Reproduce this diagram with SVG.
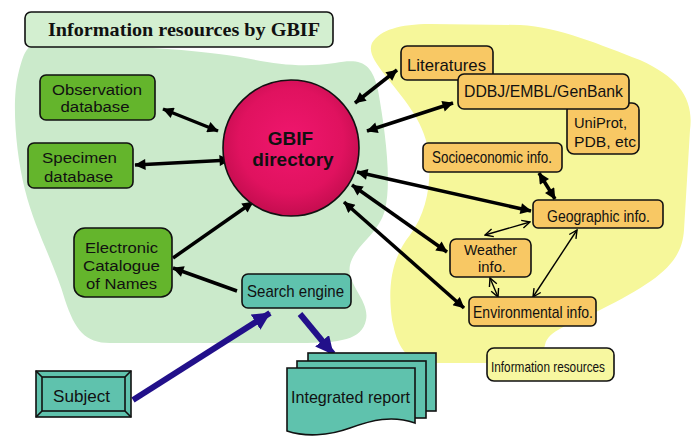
<svg xmlns="http://www.w3.org/2000/svg" width="696" height="438" viewBox="0 0 696 438">
<defs>
<radialGradient id="gb" cx="50%" cy="45%" r="55%">
<stop offset="0" stop-color="#f0166e"/>
<stop offset="0.7" stop-color="#e0125f"/>
<stop offset="1" stop-color="#c40d4f"/>
</radialGradient>
<marker id="ak" viewBox="0 0 10 10" refX="9.5" refY="5" markerWidth="12" markerHeight="11" markerUnits="userSpaceOnUse" orient="auto-start-reverse">
<path d="M0,0 L10,5 L0,10 Z" fill="#000"/>
</marker>
<marker id="at" viewBox="0 0 10 10" refX="9" refY="5" markerWidth="10" markerHeight="10" markerUnits="userSpaceOnUse" orient="auto-start-reverse">
<path d="M1,1 L9,5 L1,9" fill="none" stroke="#000" stroke-width="1.4"/>
</marker>
<marker id="ab" viewBox="0 0 10 10" refX="9.5" refY="5" markerWidth="18" markerHeight="18" markerUnits="userSpaceOnUse" orient="auto">
<path d="M0,0 L10,5 L0,10 Z" fill="#22108a"/>
</marker>
</defs>
<style>
.t{font-family:"Liberation Sans",Arial,sans-serif;font-size:17px;fill:#111;}
.m{font-size:15.5px;}
.b{stroke:#111;stroke-width:1.6;}
.g{fill:#64b52c;}
.o{fill:#f8c864;}
.c{fill:#5fc2ad;}
.thick{stroke:#000;stroke-width:3.5;fill:none;}
.thin{stroke:#000;stroke-width:1.4;fill:none;}
.blue{stroke:#22108a;stroke-width:6;fill:none;}
</style>

<path id="greenArea" d="M30,47 C100,42 200,50 240,57 C275,64 300,68 335,63 C360,58 372,62 378,90 C385,130 392,180 385,210 C378,235 355,245 350,265 C346,285 370,300 366,320 C362,340 340,343 300,343 L110,343 C85,343 75,330 65,300 C55,265 35,230 25,190 C15,150 12,100 18,75 C22,58 25,50 30,47 Z" fill="#cbeacb"/>
<path id="yellowArea" d="M372,43 C380,30 400,24 430,24 L520,25 C560,27 600,45 640,60 C680,78 694,100 690,130 L684,230 C682,262 660,280 600,310 C570,325 548,330 545,345 C542,358 530,363 500,363 L430,363 C405,362 397,345 392,320 C388,290 390,260 410,235 C428,210 432,180 428,150 C424,120 400,95 385,75 C375,62 368,52 372,43 Z" fill="#f6f79a"/>

<g id="title">
<rect x="25" y="12" width="308" height="35" rx="6" fill="#d3efd0" class="b"/>
<text x="184" y="36" text-anchor="middle" textLength="272" lengthAdjust="spacingAndGlyphs" style="font-family:'Liberation Serif','Times New Roman',serif;font-size:19px;font-weight:bold;fill:#111">Information resources by GBIF</text>
</g>

<g id="connectors">
<line x1="163" y1="109" x2="218" y2="131" class="thick" marker-start="url(#ak)" marker-end="url(#ak)"/>
<line x1="135" y1="165" x2="230" y2="160" class="thick" marker-start="url(#ak)" marker-end="url(#ak)"/>
<line x1="173" y1="258" x2="253" y2="202" class="thick" marker-end="url(#ak)"/>
<line x1="237" y1="291" x2="173" y2="268" class="thick" marker-end="url(#ak)"/>
<line x1="355" y1="103" x2="397" y2="70" class="thick" marker-start="url(#ak)" marker-end="url(#ak)"/>
<line x1="367" y1="131" x2="453" y2="103" class="thick" marker-start="url(#ak)" marker-end="url(#ak)"/>
<line x1="357" y1="172" x2="531" y2="211" class="thick" marker-start="url(#ak)" marker-end="url(#ak)"/>
<line x1="352" y1="185" x2="447" y2="252" class="thick" marker-start="url(#ak)" marker-end="url(#ak)"/>
<line x1="344" y1="202" x2="464" y2="308" class="thick" marker-start="url(#ak)" marker-end="url(#ak)"/>
<line x1="539" y1="173" x2="555" y2="199" class="thick" marker-start="url(#ak)" marker-end="url(#ak)"/>
<line x1="485" y1="235" x2="530" y2="222" class="thin" marker-start="url(#at)" marker-end="url(#at)"/>
<line x1="490" y1="278" x2="498" y2="297" class="thin" marker-start="url(#at)" marker-end="url(#at)"/>
<line x1="577" y1="230" x2="533" y2="297" class="thin" marker-start="url(#at)" marker-end="url(#at)"/>
<line x1="133" y1="400" x2="270" y2="313" class="blue" marker-end="url(#ab)"/>
<line x1="300" y1="314" x2="333" y2="354" class="blue" marker-end="url(#ab)"/>
</g>

<g id="observation">
<rect x="40" y="75" width="115" height="45" rx="6" class="g b"/>
<text class="t m" x="97" y="95" text-anchor="middle" textLength="90" lengthAdjust="spacingAndGlyphs">Observation</text>
<text class="t m" x="95" y="112" text-anchor="middle" textLength="69" lengthAdjust="spacingAndGlyphs">database</text>
</g>
<g id="specimen">
<rect x="28" y="143" width="105" height="45" rx="6" class="g b"/>
<text class="t m" x="79.5" y="163" text-anchor="middle" textLength="75" lengthAdjust="spacingAndGlyphs">Specimen</text>
<text class="t m" x="78.5" y="182" text-anchor="middle" textLength="69" lengthAdjust="spacingAndGlyphs">database</text>
</g>
<g id="catalogue">
<rect x="74" y="228" width="98" height="69" rx="11" class="g b"/>
<text class="t m" x="121.5" y="253" text-anchor="middle" textLength="73" lengthAdjust="spacingAndGlyphs">Electronic</text>
<text class="t m" x="121.5" y="271" text-anchor="middle" textLength="77" lengthAdjust="spacingAndGlyphs">Catalogue</text>
<text class="t m" x="121.5" y="289" text-anchor="middle" textLength="71" lengthAdjust="spacingAndGlyphs">of Names</text>
</g>
<g id="gbif">
<circle cx="291" cy="148" r="68" fill="url(#gb)" class="b"/>
<text x="290.5" y="145" text-anchor="middle" style="font-family:'Liberation Sans',Arial,sans-serif;font-size:19px;font-weight:bold;fill:#111">GBIF</text>
<text x="293" y="166" text-anchor="middle" style="font-family:'Liberation Sans',Arial,sans-serif;font-size:19px;font-weight:bold;fill:#111">directory</text>
</g>
<g id="search">
<rect x="242" y="274" width="109" height="34" rx="6" class="c b"/>
<text class="t" x="295.5" y="297" text-anchor="middle" textLength="97" lengthAdjust="spacingAndGlyphs">Search engine</text>
</g>
<g id="subject">
<rect x="36" y="371" width="95" height="46" class="c b"/>
<rect x="42" y="377" width="83" height="34" class="c b"/>
<path d="M36,371 L42,377 M131,371 L125,377 M36,417 L42,411 M131,417 L125,411" class="b" fill="none"/>
<text class="t" x="81.5" y="402" text-anchor="middle" textLength="57" lengthAdjust="spacingAndGlyphs">Subject</text>
</g>
<g id="report">
<rect x="308" y="353" width="128" height="58" class="c b"/>
<rect x="297" y="361" width="129" height="57" class="c b"/>
<path d="M287,368 H415 V423 C392,415 372,420 350,428 C328,436 305,437 287,431 Z" class="c b"/>
<text class="t" x="350.5" y="403" text-anchor="middle" textLength="119" lengthAdjust="spacingAndGlyphs">Integrated report</text>
</g>
<g id="uniprot">
<rect x="567" y="103" width="72" height="51" rx="7" class="o b"/>
<text class="t m" x="574" y="128" textLength="53" lengthAdjust="spacingAndGlyphs">UniProt,</text>
<text class="t m" x="574" y="147" textLength="62" lengthAdjust="spacingAndGlyphs">PDB, etc</text>
</g>
<g id="literatures">
<rect x="401" y="46" width="92" height="34" rx="6" class="o b"/>
<text class="t" x="446.5" y="71" text-anchor="middle" textLength="79" lengthAdjust="spacingAndGlyphs">Literatures</text>
</g>
<g id="ddbj">
<rect x="458" y="74" width="171" height="35" rx="6" class="o b"/>
<text class="t" x="543.5" y="97" text-anchor="middle" textLength="159" lengthAdjust="spacingAndGlyphs">DDBJ/EMBL/GenBank</text>
</g>
<g id="socio">
<rect x="423" y="143" width="139" height="29" rx="5" class="o b"/>
<text class="t" x="492" y="163" text-anchor="middle" textLength="120" lengthAdjust="spacingAndGlyphs">Socioeconomic info.</text>
</g>
<g id="geographic">
<rect x="533" y="200" width="130" height="28" rx="5" class="o b"/>
<text class="t" x="598.5" y="222" text-anchor="middle" textLength="103" lengthAdjust="spacingAndGlyphs">Geographic info.</text>
</g>
<g id="weather">
<rect x="450" y="239" width="81" height="38" rx="6" class="o b"/>
<text class="t m" x="490.5" y="255" text-anchor="middle" textLength="53" lengthAdjust="spacingAndGlyphs">Weather</text>
<text class="t m" x="492" y="272" text-anchor="middle" textLength="28" lengthAdjust="spacingAndGlyphs">info.</text>
</g>
<g id="environmental">
<rect x="469" y="297" width="127" height="29" rx="5" class="o b"/>
<text class="t" x="533" y="318" text-anchor="middle" textLength="120" lengthAdjust="spacingAndGlyphs">Environmental info.</text>
</g>
<g id="legend">
<rect x="487" y="348" width="127" height="33" rx="7" fill="#f7f7a0" class="b"/>
<text class="t" x="548" y="372" text-anchor="middle" textLength="114" lengthAdjust="spacingAndGlyphs" style="font-size:15px">Information resources</text>
</g>
</svg>
